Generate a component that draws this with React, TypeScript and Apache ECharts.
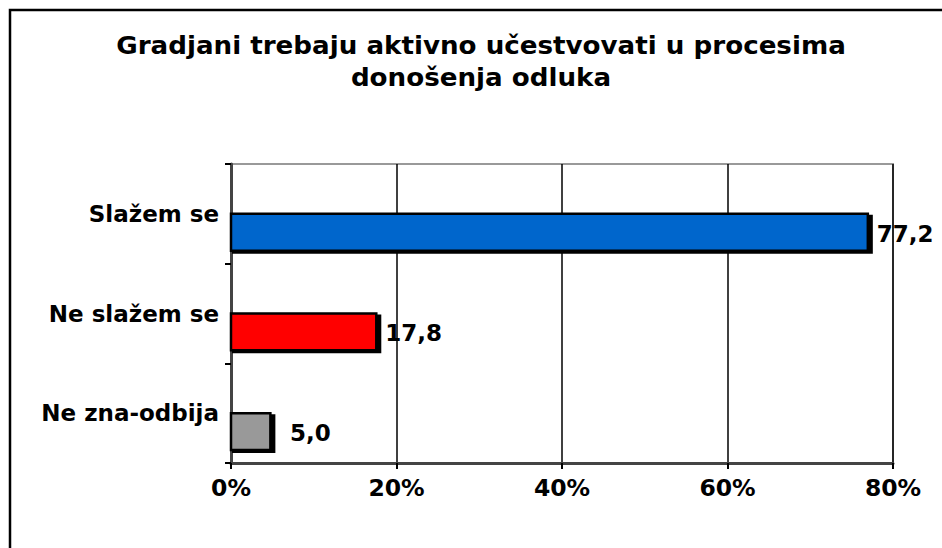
import React, { useEffect, useRef } from "react";
import * as echarts from "echarts";

const titleLines = ["Gradjani trebaju aktivno učestvovati u procesima", "donošenja odluka"];
const categories = ["Slažem se", "Ne slažem se", "Ne zna-odbija"];
const values = [77.2, 17.8, 5.0];
const colors = ["#0066CC", "#FF0000", "#999999"];
const xTicks = [0, 20, 40, 60, 80];

const FONT = "'DejaVu Sans', Verdana, sans-serif";

export default function App() {
  const ref = useRef<HTMLDivElement>(null);
  useEffect(() => {
    document.body.style.margin = "0";
    const chart = echarts.init(ref.current!, null, { renderer: "svg" });
    const data = values.map((v, i) => [v, i]);
    chart.setOption({
      animation: false,
      backgroundColor: "#ffffff",
      graphic: [
        {
          type: "rect",
          shape: { x: 10, y: 10, width: 960, height: 600 },
          style: { fill: "none", stroke: "#000", lineWidth: 2.5 },
          z: 100,
        },
        {
          type: "text",
          x: 481,
          y: 30,
          scaleX: 1.09,
          style: {
            text: titleLines.join("\n"),
            font: `bold 24px ${FONT}`,
            fill: "#000",
            align: "center",
            verticalAlign: "top",
            lineHeight: 32,
          },
        },
      ],
      grid: {
        left: 231,
        right: 942 - 893,
        top: 164,
        bottom: 548 - 463,
        show: true,
        borderColor: "#999999",
        borderWidth: 2,
      },
      xAxis: {
        type: "value",
        min: xTicks[0],
        max: xTicks[xTicks.length - 1],
        interval: 20,
        axisLine: { show: true, lineStyle: { color: "#444", width: 3 } },
        axisTick: { show: true, length: 6, lineStyle: { color: "#000", width: 2 } },
        splitLine: { show: true, lineStyle: { color: "#000", width: 1.5 } },
        axisLabel: {
          formatter: "{value}%",
          fontFamily: FONT,
          fontWeight: "bold",
          fontSize: 23.5,
          color: "#000",
          margin: 13,
        },
      },
      yAxis: {
        type: "category",
        data: categories,
        inverse: true,
        axisLine: { show: true, lineStyle: { color: "#444", width: 3 } },
        axisTick: { show: true, length: 6, lineStyle: { color: "#000", width: 2 } },
        axisLabel: {
          fontFamily: FONT,
          fontWeight: "bold",
          fontSize: 23,
          color: "#000",
          margin: 12,
        },
      },
      series: [
        {
          type: "custom",
          data,
          encode: { x: 0, y: 1 },
          renderItem: (params: any, api: any) => {
            const v = api.value(0);
            const c = api.value(1);
            const end = api.coord([v, c]);
            const start = api.coord([0, c]);
            const band = api.size([0, 1])[1];
            const h = band * 0.38;
            const top = end[1];
            const w = end[0] - start[0];
            const labelX = Math.max(end[0] + 7, start[0] + 59);
            return {
              type: "group",
              children: [
                {
                  type: "rect",
                  shape: { x: start[0] + 1, y: top + 1, width: w + 2, height: h + 1 },
                  style: { fill: "#000" },
                },
                {
                  type: "rect",
                  shape: { x: start[0], y: top, width: w - 2, height: h - 1 },
                  style: { fill: colors[params.dataIndex], stroke: "#000", lineWidth: 2.5 },
                },
                {
                  type: "text",
                  x: labelX,
                  y: top + h / 2 + 1,
                  style: {
                    text: v.toFixed(1).replace(".", ","),
                    font: `bold 23px ${FONT}`,
                    fill: "#000",
                    align: "left",
                    verticalAlign: "middle",
                  },
                },
              ],
            };
          },
        },
      ],
    });
    return () => chart.dispose();
  }, []);
  return <div ref={ref} style={{ width: 942, height: 548 }} />;
}
